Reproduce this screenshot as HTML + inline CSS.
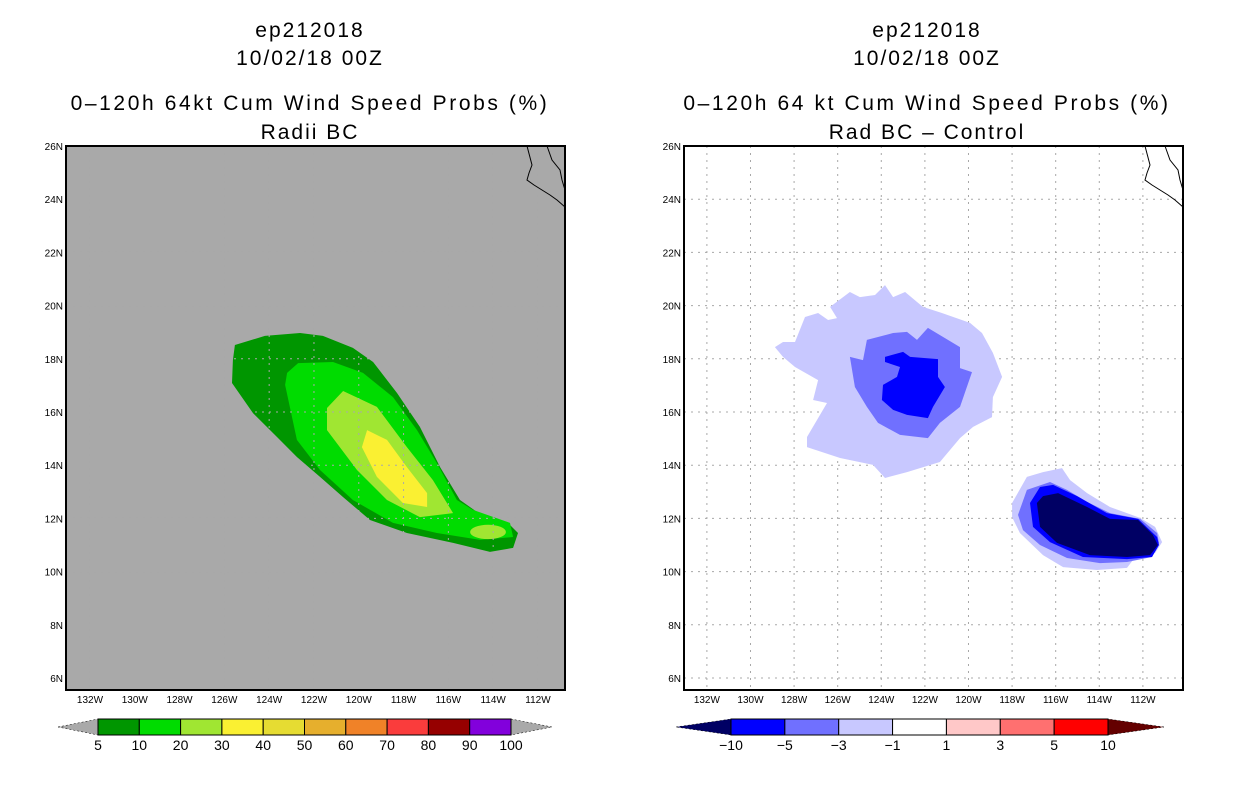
<!DOCTYPE html>
<html><head><meta charset="utf-8"><style>
body{margin:0;background:#fff;width:1236px;height:800px;overflow:hidden}
svg text{font-family:"Liberation Sans",sans-serif}
</style></head><body>
<svg id="s" width="1236" height="800" xmlns="http://www.w3.org/2000/svg">
<g font-size="21" text-anchor="middle">
<text x="310" y="37" letter-spacing="2">ep212018</text><text x="310" y="65" letter-spacing="2">10/02/18 00Z</text>
<text x="310" y="110" letter-spacing="2.6">0–120h 64kt Cum Wind Speed Probs (%)</text><text x="310" y="139" letter-spacing="2">Radii BC</text></g>
<g font-size="21" text-anchor="middle">
<text x="927" y="37" letter-spacing="2">ep212018</text><text x="927" y="65" letter-spacing="2">10/02/18 00Z</text>
<text x="927" y="110" letter-spacing="2.6">0–120h 64 kt Cum Wind Speed Probs (%)</text><text x="927" y="139" letter-spacing="2">Rad BC – Control</text></g>
<g id="L"></g>
<g id="R"></g>
<g id="CB"></g>
</svg>
<script>
// contour data (lon, lat) pairs
const leftC5=[[-125.53,18.52],[-124.19,18.86],[-122.62,18.97],[-121.6,18.86],[-120.26,18.41],[-119.36,17.88],[-118.29,16.71],[-117.27,15.44],[-116.37,13.93],[-115.48,12.69],[-114.72,12.24],[-113.38,11.86],[-112.89,11.45],[-113.11,10.89],[-114.14,10.74],[-115.79,11.08],[-117.85,11.45],[-119.5,11.94],[-120.7,12.8],[-121.73,13.56],[-122.76,14.31],[-123.65,15.06],[-124.72,15.96],[-125.66,17.09],[-125.62,17.95]];
const leftC10=[[-122.71,17.84],[-121.15,17.88],[-119.81,17.47],[-118.47,16.56],[-117.4,15.32],[-116.51,14.08],[-115.62,12.69],[-114.9,12.32],[-113.25,11.83],[-113.11,11.3],[-114.59,11.19],[-116.51,11.45],[-118.47,11.83],[-120.26,12.69],[-121.73,13.82],[-122.76,14.95],[-123.29,17.02],[-123.2,17.47]];
const leftC20=[[-120.7,16.79],[-119.19,16.19],[-117.85,14.68],[-116.69,13.44],[-115.79,12.2],[-117.27,12.05],[-118.74,12.69],[-120.08,13.82],[-121.42,15.32],[-121.42,16.15]];
const leftC20b=[[-114.23,11.49,0.8,0.27]];
const leftC30=[[-119.63,15.32],[-118.74,14.95],[-117.85,13.93],[-116.95,12.95],[-116.95,12.43],[-118.03,12.58],[-119.19,13.56],[-119.86,14.68]];
const rightM1=[[-128.88,18.44],[-128.51,18.63],[-127.96,18.63],[-127.5,19.57],[-126.9,19.72],[-126.44,19.46],[-126.03,19.53],[-126.35,19.95],[-125.44,20.51],[-124.98,20.32],[-124.29,20.4],[-123.83,20.77],[-123.46,20.32],[-122.91,20.51],[-122.09,19.95],[-121.22,19.72],[-119.93,19.35],[-119.38,18.97],[-118.88,18.22],[-118.46,17.32],[-118.88,16.56],[-118.92,15.81],[-119.79,15.44],[-120.39,15.02],[-121.31,14.12],[-122.82,13.74],[-123.83,13.52],[-124.38,14.01],[-125.89,14.27],[-127.41,14.68],[-127.41,15.06],[-126.49,16.34],[-127.13,16.45],[-126.9,17.2],[-127.96,17.69],[-128.51,18.07]];
const rightM3=[[-125.44,18.07],[-124.84,17.95],[-124.66,18.71],[-123.46,18.97],[-122.82,19.01],[-122.36,18.71],[-121.86,19.16],[-120.39,18.44],[-120.39,17.65],[-119.84,17.5],[-120.39,16.19],[-121.31,15.59],[-121.86,15.02],[-123.14,15.14],[-124.15,15.59],[-124.66,16.19],[-125.21,16.94]];
const rightM5=[[-123.83,18.07],[-123.0,18.26],[-122.68,18.07],[-121.4,17.99],[-121.4,17.32],[-121.08,16.94],[-121.63,16.19],[-121.86,15.77],[-122.82,15.89],[-123.46,16.08],[-123.97,16.45],[-123.92,17.02],[-123.28,17.32],[-123.14,17.69],[-123.83,17.88]];
const rightB1=[[-118.0,12.58],[-117.32,13.56],[-116.58,13.74],[-115.71,13.89],[-115.34,13.44],[-114.56,12.95],[-113.51,12.43],[-112.13,12.02],[-111.44,11.68],[-111.12,11.11],[-111.44,10.7],[-112.45,10.44],[-112.73,10.14],[-114.11,10.06],[-115.66,10.17],[-116.58,10.62],[-117.64,11.45],[-118.0,12.05]];
const rightB3=[[-117.73,12.13],[-117.32,13.07],[-116.26,13.37],[-115.48,13.07],[-114.56,12.62],[-113.51,12.2],[-112.13,11.98],[-111.35,11.45],[-111.26,11.08],[-111.58,10.55],[-112.73,10.36],[-113.97,10.32],[-115.48,10.51],[-116.72,11.0],[-117.5,11.56]];
const rightB5=[[-117.18,12.58],[-116.72,13.18],[-116.12,13.26],[-115.02,12.84],[-113.65,12.2],[-112.22,11.98],[-111.35,11.3],[-111.26,11.0],[-111.58,10.55],[-112.73,10.47],[-114.75,10.55],[-116.26,11.11],[-117.04,11.68]];
const rightB10=[[-116.86,12.58],[-116.58,12.84],[-115.89,12.95],[-114.56,12.43],[-113.51,11.98],[-112.22,11.94],[-111.54,11.38],[-111.31,11.0],[-111.67,10.62],[-112.73,10.55],[-114.43,10.62],[-115.94,11.08],[-116.72,11.68]];
const lonTicks=[132,130,128,126,124,122,120,118,116,114,112];
const latTicks=[26,24,22,20,18,16,14,12,10,8,6];
const leftBarLabels=["5","10","20","30","40","50","60","70","80","90","100"];
const leftBarColors=["#009600","#00dc00","#a0e632","#faf032","#e6dc32","#e6af2d","#f08228","#fa3c3c","#960000","#8200dc"];
const rightBarLabels=["−10","−5","−3","−1","1","3","5","10"];
const rightBarColors=["#0000ff","#7070ff","#c8c8ff","#ffffff","#ffc8c8","#ff7070","#ff0000"];

const NS="http://www.w3.org/2000/svg";
function mk(t,a,p){const e=document.createElementNS(NS,t);for(const k in a)e.setAttribute(k,a[k]);p.appendChild(e);return e;}
function panel(g,x0,lon0,ppl,bg){
  const X=lon=>x0+(lon-lon0)*ppl, Y=lat=>146+(26-lat)*26.6;
  const r=mk('rect',{x:x0,y:146,width:499,height:544,fill:bg},g);
  
  
  return {X,Y};
}
function poly(g,P,pts,fill,name){
  const e=mk('polygon',{points:pts.map(p=>P.X(p[0]).toFixed(1)+','+P.Y(p[1]).toFixed(1)).join(' '),fill:fill},g);
  
  
}
function grid(g,P,x0,gc){
  lonTicks.forEach(l=>{const x=P.X(-l);
    const ln=mk('line',{x1:x,x2:x,y1:146,y2:690,stroke:gc,'stroke-dasharray':'2,5'},g);
    
    
    const t=mk('text',{x:x,y:703,'font-size':10,'text-anchor':'middle'},g);t.textContent=l+'W';
    
    });
  latTicks.forEach(l=>{const y=P.Y(l);
    const ln=mk('line',{x1:x0,x2:x0+499,y1:y,y2:y,stroke:gc,'stroke-dasharray':'2,5'},g);
    
    
    const t=mk('text',{x:x0-3,y:y+4,'font-size':10,'text-anchor':'end'},g);t.textContent=l+'N';
    
    });
}
function coast(g,x0){
  const d=`M${x0+461},146 L${x0+466},165 L${x0+463},173 L${x0+461},180 L${x0+468},185 L${x0+476},190 L${x0+484},195 L${x0+491},200 L${x0+499},207 M${x0+481},146 L${x0+486},160 L${x0+494},170 L${x0+496},180 L${x0+499},190`;
  const c=mk('path',{d:d,fill:'none',stroke:'#000','stroke-width':1},g);
  
  
}
// Left
const gL=document.getElementById('L');
const PL=panel(gL,66,-133.07,22.4,'#a9a9a9');
poly(gL,PL,leftC5,'#009600','contour-5');
poly(gL,PL,leftC10,'#00dc00','contour-10');
poly(gL,PL,leftC20,'#a0e632','contour-20');
leftC20b.forEach(e=>{const el=mk('ellipse',{cx:PL.X(e[0]),cy:PL.Y(e[1]),rx:e[2]*22.4,ry:e[3]*26.6,fill:'#a0e632'},gL);
  
  });
poly(gL,PL,leftC30,'#faf032','contour-30');
grid(gL,PL,66,'#a9a9a9');coast(gL,66);
let f=mk('rect',{x:66,y:146,width:499,height:544,fill:'none',stroke:'#000','stroke-width':2},gL);


// Right
const gR=document.getElementById('R');
const PR=panel(gR,684,-133.05,21.8,'#ffffff');
grid(gR,PR,684,'#a8a8a8');
[[rightM1,'#c8c8ff'],[rightM3,'#7070ff'],[rightM5,'#0000ff']].forEach((a,i)=>poly(gR,PR,a[0],a[1],'north-blob-'+i));
[[rightB1,'#c8c8ff'],[rightB3,'#7070ff'],[rightB5,'#0000ff'],[rightB10,'#000064']].forEach((a,i)=>poly(gR,PR,a[0],a[1],'south-blob-'+i));
coast(gR,684);
f=mk('rect',{x:684,y:146,width:499,height:544,fill:'none',stroke:'#000','stroke-width':2},gR);


// Colorbars
const cb=document.getElementById('CB');
function bar(x0,x1,tipL,tipR,cols,labs,lc,rc,name){
  const w=(x1-x0)/cols.length;
  const tl=mk('polygon',{points:`${tipL},727 ${x0},719 ${x0},735`,fill:lc,stroke:'#000','stroke-width':0.5,'stroke-dasharray':'2,2'},cb);
  
  
  const tr=mk('polygon',{points:`${tipR},727 ${x1},719 ${x1},735`,fill:rc,stroke:'#000','stroke-width':0.5,'stroke-dasharray':'2,2'},cb);
  
  
  cols.forEach((c,i)=>{const r=mk('rect',{x:x0+i*w,y:719,width:w,height:16,fill:c,stroke:'#000','stroke-width':1},cb);
    
    });
  labs.forEach((l,i)=>{const t=mk('text',{x:x0+i*w,y:750,'font-size':14,'text-anchor':'middle'},cb);t.textContent=l;
    
    });
}
bar(98,511,58,552,leftBarColors,leftBarLabels,'#a9a9a9','#a9a9a9','left-colorbar');
bar(731,1108,676,1164,rightBarColors,[],'#000064','#640000','right-colorbar');
rightBarLabels.forEach((l,i)=>{const w=(1108-731)/7;const t=mk('text',{x:731+i*w,y:750,'font-size':14,'text-anchor':'middle'},cb);t.textContent=l;
  
  });
</script>
</body></html>
